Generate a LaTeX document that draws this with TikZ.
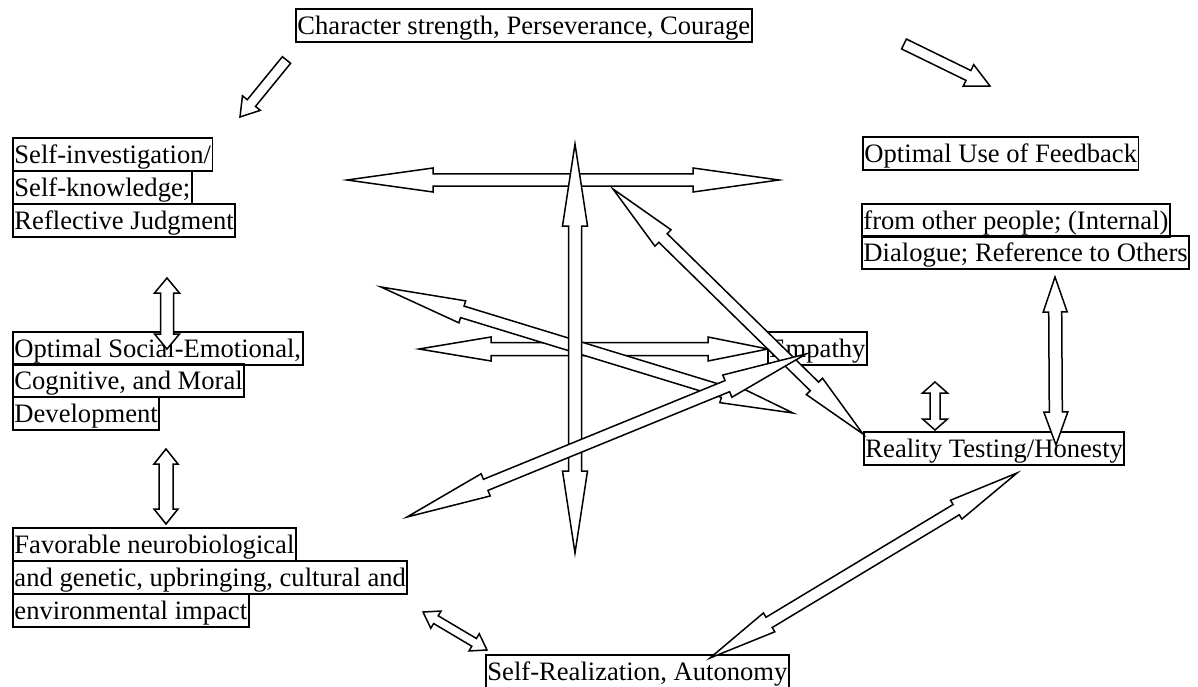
\documentclass[tikz,border=0pt]{standalone}
\usepackage{fontspec}
\setmainfont{Liberation Serif}
\usetikzlibrary{calc}
\tikzset{
  lbl/.style={draw, line width=1.9pt, anchor=north west, inner xsep=1.5pt, inner ysep=1.75pt,
    text height=23.5pt, text depth=6pt, font=\fontsize{26.6}{30}\selectfont},
  barrow/.style={draw, fill=white, line width=1.5pt, line join=miter}
}
% double block arrow: #1 tip A, #2 tip B, #3 shaft half width, #4 head half width, #5 head length at A, #6 head length at B
\newcommand\dblarr[6]{%
  \coordinate (hA) at ($(#1)!#5!(#2)$);
  \coordinate (hB) at ($(#2)!#6!(#1)$);
  \draw[barrow] (#1) -- ($(hA)!#4!90:(#2)$) -- ($(hA)!#3!90:(#2)$)
    -- ($(hB)!#3!-90:(#1)$) -- ($(hB)!#4!-90:(#1)$) -- (#2)
    -- ($(hB)!#4!90:(#1)$) -- ($(hB)!#3!90:(#1)$)
    -- ($(hA)!#3!-90:(#2)$) -- ($(hA)!#4!-90:(#2)$) -- cycle;}
% single block arrow: #1 tail, #2 tip, #3 shaft half, #4 head half, #5 head length
\newcommand\sglarr[5]{%
  \coordinate (hB) at ($(#2)!#5!(#1)$);
  \draw[barrow] ($(#1)!#3!90:(#2)$) -- ($(hB)!#3!-90:(#1)$) -- ($(hB)!#4!-90:(#1)$) -- (#2)
    -- ($(hB)!#4!90:(#1)$) -- ($(hB)!#3!90:(#1)$) -- ($(#1)!#3!-90:(#2)$) -- cycle;}
\begin{document}
\begin{tikzpicture}[x=1pt,y=-1pt]
\useasboundingbox (0,0) rectangle (1198,687);
% nodes
\node[lbl] (char) at (295,8) {Character strength, Perseverance, Courage};
\node[lbl] (si1) at (12,137) {Self-investigation/};
\node[lbl] (si2) at (12,170) {Self-knowledge;};
\node[lbl] (si3) at (12,203) {Reflective Judgment};
\node[lbl] (fb1) at (862,136) {Optimal Use of Feedback};
\node[lbl] (fb2) at (861,203) {from other people; (Internal)};
\node[lbl] (fb3) at (861,235) {Dialogue; Reference to Others};
\node[lbl] (os1) at (12,331) {Optimal Social-Emotional,};
\node[lbl] (os2) at (12,363) {Cognitive, and Moral};
\node[lbl] (os3) at (12,396) {Development};
\node[lbl] (emp) at (767,331) {Empathy};
\node[lbl] (rt) at (863,431) {Reality Testing/Honesty};
\node[lbl] (fa1) at (12,527) {Favorable neurobiological};
\node[lbl] (fa2) at (12,560) {and genetic, upbringing, cultural and};
\node[lbl] (fa3) at (12,593) {environmental impact};
\node[lbl] (sr) at (485,654) {Self-Realization, Autonomy};
% arrow end points
\coordinate (s1t) at (286.5,60);   \coordinate (s1h) at (240,117);
\coordinate (s2t) at (904,44);     \coordinate (s2h) at (990,86);
\coordinate (h1a) at (347,180);    \coordinate (h1b) at (779,180);
\coordinate (v1a) at (575,144);    \coordinate (v1b) at (575,553);
\coordinate (d5a) at (613,189);    \coordinate (d5b) at (863,434);
\coordinate (d6a) at (381,287);    \coordinate (d6b) at (793,413);
\coordinate (h7a) at (419,349);    \coordinate (h7b) at (768,349);
\coordinate (d8a) at (407,517);    \coordinate (d8b) at (806,354);
\coordinate (l9a) at (167,278);    \coordinate (l9b) at (167,349);
\coordinate (l10a) at (166,449);   \coordinate (l10b) at (166,524);
\coordinate (d11a) at (423,612);   \coordinate (d11b) at (487,650);
\coordinate (r12a) at (1055,277);  \coordinate (r12b) at (1056,445);
\coordinate (r13a) at (935,382);   \coordinate (r13b) at (935,430);
\coordinate (d14a) at (1017,473);  \coordinate (d14b) at (710,658);
% arrows
\sglarr{s1t}{s1h}{5.3pt}{11.5pt}{18pt}
\sglarr{s2t}{s2h}{5.5pt}{12pt}{24pt}
\dblarr{h1a}{h1b}{6pt}{12pt}{86pt}{86pt}
\dblarr{h7a}{h7b}{6.5pt}{12pt}{72pt}{60pt}
\dblarr{d6a}{d6b}{6pt}{11.5pt}{85pt}{73pt}
\dblarr{v1a}{v1b}{6.5pt}{12.5pt}{82pt}{82pt}
\dblarr{d5a}{d5b}{6pt}{11.5pt}{70pt}{68pt}
\dblarr{d8a}{d8b}{6pt}{12pt}{85pt}{85pt}
\dblarr{l9a}{l9b}{6.5pt}{12.5pt}{15pt}{15pt}
\dblarr{l10a}{l10b}{7pt}{12pt}{15pt}{15pt}
\dblarr{d11a}{d11b}{4.5pt}{10pt}{15pt}{15pt}
\dblarr{r12a}{r12b}{6.5pt}{12pt}{35pt}{33pt}
\dblarr{r13a}{r13b}{5pt}{12.5pt}{11pt}{11pt}
\dblarr{d14a}{d14b}{6pt}{11pt}{71pt}{69pt}
\end{tikzpicture}
\end{document}
